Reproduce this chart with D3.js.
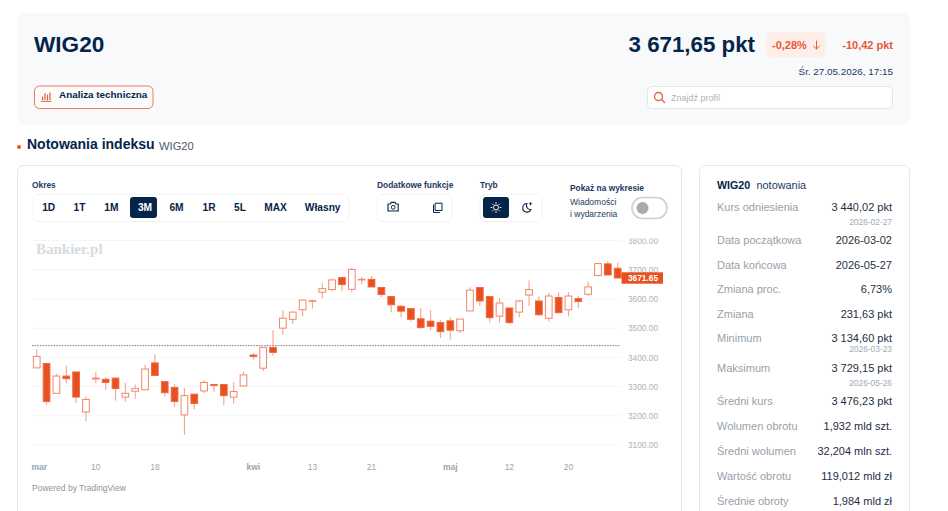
<!DOCTYPE html>
<html><head><meta charset="utf-8">
<style>html,body{margin:0;padding:0;background:#fff;overflow:hidden}svg{display:block}text{font-family:"Liberation Sans",Arial,sans-serif}
.tick line,.domain{display:none}</style>
<script src="https://cdn.jsdelivr.net/npm/d3@7"></script></head><body>
<svg id="c" width="948" height="511"></svg>
<script>
const dates=["03-02","03-03","03-04","03-05","03-06","03-09","03-10","03-11","03-12","03-13","03-16","03-17","03-18","03-19","03-20","03-23","03-24","03-25","03-26","03-27","03-30","03-31","04-01","04-02","04-07","04-08","04-09","04-10","04-13","04-14","04-15","04-16","04-17","04-20","04-21","04-22","04-23","04-24","04-27","04-28","04-29","04-30","05-04","05-05","05-06","05-07","05-08","05-11","05-12","05-13","05-14","05-15","05-18","05-19","05-20","05-21","05-22","05-25","05-26","05-27"];
const opens=[3364,3379,3277,3336,3350,3213,3326,3325,3329,3264,3284,3289,3381,3317,3297,3203,3274,3285,3307,3307,3264,3302,3408,3363,3434,3500,3530,3563,3592,3623,3632,3673,3633,3665,3667,3639,3608,3575,3567,3532,3524,3519,3525,3491,3559,3639,3608,3541,3569,3555,3613,3593,3534,3605,3563,3601,3616,3680,3720,3705];
const highs=[3428,3380,3344,3371,3351,3266,3350,3332,3331,3312,3307,3375,3411,3318,3309,3295,3274,3322,3310,3309,3315,3351,3414,3435,3494,3561,3556,3597,3597,3654,3670,3674,3706,3676,3678,3640,3609,3578,3568,3568,3562,3527,3536,3531,3640,3640,3608,3603,3570,3596,3663,3608,3620,3623,3623,3612,3658,3724,3729.15,3725];
const lows=[3364,3239,3277,3311,3244,3181,3311,3289,3252,3248,3258,3288,3338,3266,3230,3134.6,3222,3278,3282,3236,3242,3301,3392,3353,3406,3477,3514,3540,3567,3602,3626,3626,3624,3651,3641,3607,3555,3537,3522,3498,3492,3466,3461,3483,3558,3576,3520,3519,3514,3537,3576,3541,3523,3550,3540,3568,3610,3678,3681,3671];
const closes=[3403,3249,3336,3327,3264,3256,3329,3314,3293,3277,3293,3360,3338,3279,3249,3269,3242,3314,3304,3269,3283,3340,3403,3434,3417,3534,3555,3596,3594,3635,3665,3649,3701,3667,3641,3615,3580,3558,3530,3502,3506,3488,3493,3531,3630,3593,3536,3586,3519,3593,3632,3546,3610,3553,3610,3591,3641,3721,3682,3671.65];
const priceTicks=[3100,3200,3300,3400,3500,3600,3700,3800];
const dateTicks=[["03-02","mar"],["03-10","10"],["03-18","18"],["04-01","kwi"],["04-13","13"],["04-21","21"],["05-04","maj"],["05-12","12"],["05-20","20"]];
const baseValue=3440.02, lastValue=3671.65;
const periods=[["1D",48.7],["1T",79.5],["1M",111.3],["3M",145],["6M",176.5],["1R",209],["5L",240],["MAX",275.5],["Własny",322.7]];
const statRows=[["Kurs odniesienia","3 440,02 pkt","2026-02-27",211],["Data początkowa","2026-03-02",null,244],["Data końcowa","2026-05-27",null,269],["Zmiana proc.","6,73%",null,293],["Zmiana","231,63 pkt",null,318],["Minimum","3 134,60 pkt","2026-03-23",342],["Maksimum","3 729,15 pkt","2026-05-26",372],["Średni kurs","3 476,23 pkt",null,405],["Wolumen obrotu","1,932 mld szt.",null,430],["Średni wolumen","32,204 mln szt.",null,455],["Wartość obrotu","119,012 mld zł",null,480],["Średnie obroty","1,984 mld zł",null,505]];

const navy="#04244a",orange="#e9501f",svg=d3.select("#c");
const T=(x,y,s,size,fill,weight,anchor,g)=>(g||svg).append("text").attr("x",x).attr("y",y).text(s).attr("font-size",size).attr("fill",fill).attr("font-weight",weight||400).attr("text-anchor",anchor||"start");
const R=(x,y,w,h,r,fill,stroke,sw)=>svg.append("rect").attr("x",x).attr("y",y).attr("width",w).attr("height",h).attr("rx",r).attr("fill",fill).attr("stroke",stroke||"none").attr("stroke-width",sw||1);
const P=(d,stroke,sw,fill)=>svg.append("path").attr("d",d).attr("fill",fill||"none").attr("stroke",stroke).attr("stroke-width",sw||1).attr("stroke-linecap","round").attr("stroke-linejoin","round");

// header panel
R(17,13,893,112,8,"#f8f9fa");
T(34,52,"WIG20",22.6,navy,700);
T(755,52,"3 671,65 pkt",22.3,navy,700,"end");
R(766,32,60,25,5,"#fdeee9");
T(772,49,"-0,28%",11,"#e8583a",700);
P("M816.5 41V49M813.5 46L816.5 49L819.5 46","#e8583a",1);
T(893,49,"-10,42 pkt",11,"#e8583a",700,"end");
T(893,75,"Śr. 27.05.2026, 17:15",9.9,"#1c3a5e",400,"end");
R(647.5,86.5,245,22,4,"#fff","#e3e5e7",1);
svg.append("circle").attr("cx",658.5).attr("cy",96.5).attr("r",4).attr("fill","none").attr("stroke","#e8583a").attr("stroke-width",1.3);
P("M661.5 99.5L664.5 102.5","#e8583a",1.3);
T(671,100.5,"Znajdź profil",9,"#adb2b8");
R(34.5,86,118.5,22.5,5,"#fbfbfb","#f0785a",1);
P("M42.5 100V97M45 100V93.5M47.5 100V95M50 100V93","#e8583a",1.2);
P("M41.5 101.5H51","#e8583a",.8);
T(59,98,"Analiza techniczna",9.9,navy,700);
svg.append("circle").attr("cx",19).attr("cy",147).attr("r",2).attr("fill",orange);
T(27,149,"Notowania indeksu",14,navy,700);
T(159,149.5,"WIG20",11.2,"#4a5a6e");

// cards
R(17.5,165.5,664,400,6,"#fff","#e4e6e9",1);
R(699.5,165.5,210,400,6,"#fff","#e4e6e9",1);

// toolbar
T(32,188,"Okres",8.4,"#1c3a5e",700);
R(33,194.5,316,27,5,"#fff","#f2f3f5",1);
R(130,197,27,21,3,navy);
svg.selectAll(".per").data(periods).join("text").attr("class","per").attr("x",d=>d[1]).attr("y",211).attr("text-anchor","middle").attr("font-size",10.2).attr("font-weight",700).attr("fill",d=>d[0]==="3M"?"#fff":navy).text(d=>d[0]);
T(377,188,"Dodatkowe funkcje",8.4,"#1c3a5e",700);
R(377,194.5,75,27,5,"#fff","#f2f3f5",1);
P("M388 204h2.2l1-1.6h3.8l1 1.6h2.2v7H388z",navy,1.1);
svg.append("circle").attr("cx",393.2).attr("cy",207.3).attr("r",1.9).attr("fill","none").attr("stroke",navy);
P("M435.5 203.2h6.5v7.3h-6.5zM434 212.5h5.5M433.5 212v-7",navy,1);
T(480,188,"Tryb",8.4,"#1c3a5e",700);
R(480,194.5,62,27,5,"#fff","#f2f3f5",1);
R(483,197,26,21,3,navy);
svg.append("circle").attr("cx",496).attr("cy",207.5).attr("r",2.5).attr("fill","none").attr("stroke","#fff");
P("M496 202.5v1M496 211.5v1M491 207.5h1M500 207.5h1M492.5 204l.7.7M498.8 210.3l.7.7M492.5 211l.7-.7M498.8 204.7l.7-.7","#fff",.9);
P("M527 203.5a4.3 4.3 0 1 0 4 6a4 4 0 0 1-4-6z",navy,1.1);
P("M530.5 202.5v2.5M529.2 203.7h2.5",navy,.8);
T(570,191,"Pokaż na wykresie",8.4,"#1c3a5e",700);
T(570,205,"Wiadomości",8.5,"#1c3a5e");
T(570,217,"i wydarzenia",8.5,"#1c3a5e");
R(632,197.5,35,21,10.5,"#fff","#d0d0d0",1.6);
svg.append("circle").attr("cx",642.5).attr("cy",208).attr("r",6).attr("fill","#aaaaaa");

// chart
const y=d3.scaleLinear().domain([3100,3800]).range([445,240.5]);
const x=d3.scaleBand().domain(dates).range([31.8,622.6]);
svg.append("defs").append("clipPath").attr("id","axisClip").append("rect").attr("x",621).attr("y",238.5).attr("width",60).attr("height",220);
const gridG=svg.append("g");
gridG.selectAll("line").data(priceTicks).join("line").attr("x1",32).attr("x2",621).attr("y1",d=>y(d)).attr("y2",d=>y(d)).attr("stroke","#f5f6f7");
const wm=T(36,254,"Bankier",15,"#d6dbe2",700);
wm.style("font-family","'Liberation Serif',serif");
wm.append("tspan").attr("fill","#f4d3c8").text(".");
wm.append("tspan").text("pl");
svg.append("line").attr("x1",32).attr("x2",620).attr("y1",y(baseValue)).attr("y2",y(baseValue)).attr("stroke","#6b7787").attr("stroke-dasharray","1.5 1.2");

const yAxis=svg.append("g").attr("clip-path","url(#axisClip)").append("g").attr("transform","translate(621,0)").call(d3.axisRight(y).tickValues(priceTicks).tickFormat(d=>d.toFixed(2)).tickSize(0).tickPadding(7));
yAxis.selectAll("text").attr("font-size",8.3).attr("fill","#aab2bc");
const xAxis=svg.append("g").attr("transform","translate(0,456)").call(d3.axisBottom(x).tickValues(dateTicks.map(d=>d[0])).tickSize(0).tickPadding(8).tickFormat(d=>dateTicks.find(t=>t[0]===d)[1]));
xAxis.selectAll("text").attr("font-size",8.5).attr("fill","#9aa5b1").attr("font-weight",d=>{const l=dateTicks.find(t=>t[0]===d)[1];return isNaN(+l)?700:400}).attr("dx",d=>d===dateTicks[0][0]?2.5:0);

const candles=dates.map((d,i)=>({d,o:opens[i],h:highs[i],l:lows[i],c:closes[i]}));
const bw=x.bandwidth()*0.68;
const cg=svg.append("g");
cg.selectAll("line").data(candles).join("line").attr("x1",d=>x(d.d)+x.bandwidth()/2).attr("x2",d=>x(d.d)+x.bandwidth()/2).attr("y1",d=>y(d.h)).attr("y2",d=>y(d.l)).attr("stroke","#f4a48d").attr("stroke-width",1.1);
cg.selectAll("rect").data(candles).join("rect").attr("x",d=>x(d.d)+x.bandwidth()/2-bw/2).attr("width",bw)
 .attr("y",d=>y(Math.max(d.o,d.c))).attr("height",d=>Math.max(.6,Math.abs(y(d.o)-y(d.c))))
 .attr("fill",d=>d.c>=d.o?"#fff":orange).attr("stroke",d=>d.c>=d.o?"#f2866a":"#ee6a42").attr("stroke-width",1);

R(621.5,272.3,41.5,11.4,0,orange);
svg.append("text").attr("x",643).attr("y",y(lastValue)+2.9).attr("text-anchor","middle").attr("font-size",8.3).attr("font-weight",700).attr("fill","#fff").text(lastValue.toFixed(2));
T(32,491,"Powered by TradingView",8.5,"#8a95a1");

// stats
T(717,189,"WIG20",10.7,navy,700);
T(756.5,189,"notowania",10.9,"#1c3a5e");
const rows=svg.append("g");
statRows.forEach(r=>{
  T(717,r[3],r[0],11,"#98a1ab",400,"start",rows);
  T(892,r[3],r[1],11,"#1c2f45",400,"end",rows);
  if(r[2]) T(892,r[0]==="Minimum"?352:r[3]+14,r[2],8.4,"#a4abb4",400,"end",rows);
});
</script></body></html>
